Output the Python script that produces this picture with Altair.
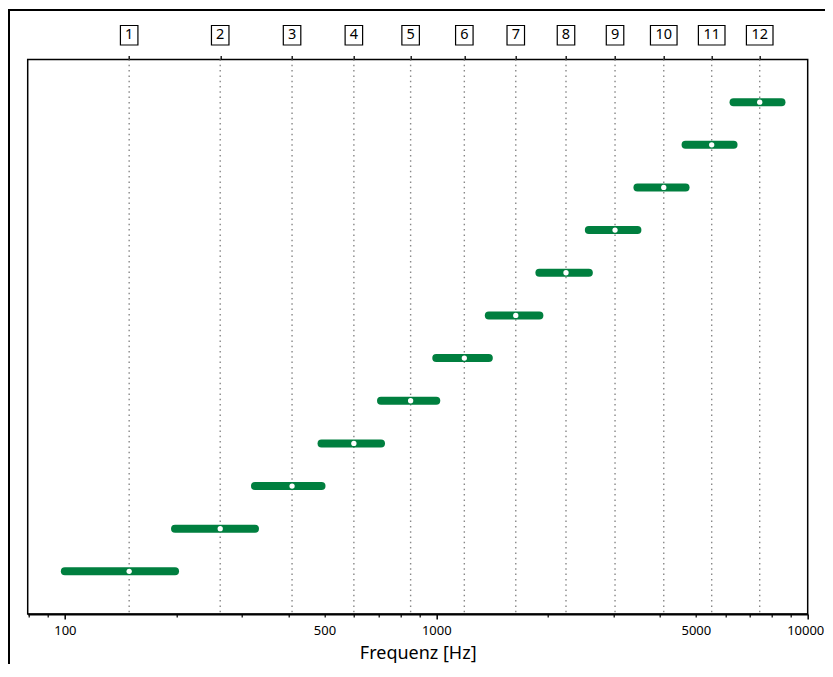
import altair as alt
import pandas as pd

# ---- data ----
bands = list(range(1, 13))
band_labels = [str(b) for b in bands]
lows = [100, 198, 325, 491, 710, 1000, 1385, 1895, 2575, 3480, 4690, 6315]
highs = [198, 325, 491, 710, 1000, 1385, 1895, 2575, 3480, 4690, 6315, 8500]
centers = [149, 262, 409, 600, 853, 1190, 1637, 2235, 3029, 4097, 5515, 7427]

minor_ticks = [80, 90, 200, 300, 400, 500, 600, 700, 800, 900,
               2000, 3000, 4000, 5000, 6000, 7000, 8000, 9000]
major_ticks = [100, 1000, 10000]
tick_labels = [100, 500, 1000, 5000, 10000]

df = pd.DataFrame({"band": bands, "label": band_labels, "low": lows,
                   "high": highs, "center": centers})
df["digits"] = df["label"].str.len()

W, H = 780, 554.5
FONT = "Noto Sans"
GREEN = "#007f3f"

xscale = alt.Scale(type="log", domain=[79.43, 10000], nice=False)
yscale = alt.Scale(domain=[0, 13], nice=False, zero=False)

base = alt.Chart(df)

frame = alt.Chart(pd.DataFrame({"k": [0]})).mark_rect(
    filled=False, stroke="black", strokeWidth=2
).encode(
    x=alt.value(-18.7), x2=alt.value(W + 80),
    y=alt.value(-49.5), y2=alt.value(H + 120),
)

guides = base.mark_rule(color="#888888", strokeWidth=1.4, strokeDash=[1.5, 3.8]).encode(
    x=alt.X("center:Q", scale=xscale,
            axis=alt.Axis(orient="top", values=centers, labels=False, domain=False,
                          ticks=True, tickSize=4, tickWidth=1.3, tickColor="black",
                          grid=False, title=None)),
)

bars = base.mark_rule(color=GREEN, strokeWidth=8, strokeCap="round").encode(
    x=alt.X("low:Q", scale=xscale,
            axis=alt.Axis(orient="bottom", values=minor_ticks, labels=False,
                          domain=True, domainColor="black", domainWidth=2,
                          tickSize=3, tickWidth=1.2, tickColor="black",
                          grid=False, title=None)),
    x2="high:Q",
    y=alt.Y("band:Q", scale=yscale, axis=None),
)

dots = base.mark_circle(color="white", size=28, opacity=1).encode(
    x=alt.X("center:Q", scale=xscale,
            axis=alt.Axis(orient="bottom", values=major_ticks, labels=False,
                          domain=False, tickSize=5, tickWidth=1.5, tickColor="black",
                          grid=False, title=None)),
    y=alt.Y("band:Q", scale=yscale, axis=None),
)

box1 = base.transform_filter("datum.digits == 1").mark_rect(
    fill="white", stroke="black", strokeWidth=1.2, xOffset=-8.75, x2Offset=8.75
).encode(
    x=alt.X("center:Q", scale=xscale, axis=None), x2="center:Q",
    y=alt.value(-34), y2=alt.value(-14.5),
)

box2 = base.transform_filter("datum.digits == 2").mark_rect(
    fill="white", stroke="black", strokeWidth=1.2, xOffset=-13.3, x2Offset=13.3
).encode(
    x=alt.X("center:Q", scale=xscale, axis=None), x2="center:Q",
    y=alt.value(-34), y2=alt.value(-14.5),
)

nums = base.mark_text(font=FONT, fontSize=14.5, baseline="middle", align="center",
                      color="black").encode(
    x=alt.X("center:Q", scale=xscale,
            axis=alt.Axis(orient="bottom", values=tick_labels, format="d",
                          labels=True, ticks=False, domain=False, grid=False,
                          labelFont=FONT, labelFontSize=13, labelColor="black",
                          labelPadding=11, labelFlush=False, labelOverlap=False,
                          labelOffset={"expr": "datum.value >= 10000 ? -2.5 : 0"},
                          title="Frequenz [Hz]", titleFont=FONT, titleFontSize=18,
                          titleFontWeight="normal", titleColor="black",
                          titlePadding=7)),
    y=alt.value(-24.2),
    text="label:N",
)

chart = alt.layer(frame, guides, bars, dots, box1, box2, nums).resolve_scale(
    x="shared", y="shared"
).resolve_axis(
    x="independent"
).properties(
    width=W, height=H,
    autosize=alt.AutoSizeParams(type="none"),
    padding={"left": 19.7, "top": 51.5, "right": 17, "bottom": 50},
    background="white",
).configure_view(
    stroke="black", strokeWidth=1.5
)

chart.save("out.html", embed_options={"renderer": "svg", "actions": False})
